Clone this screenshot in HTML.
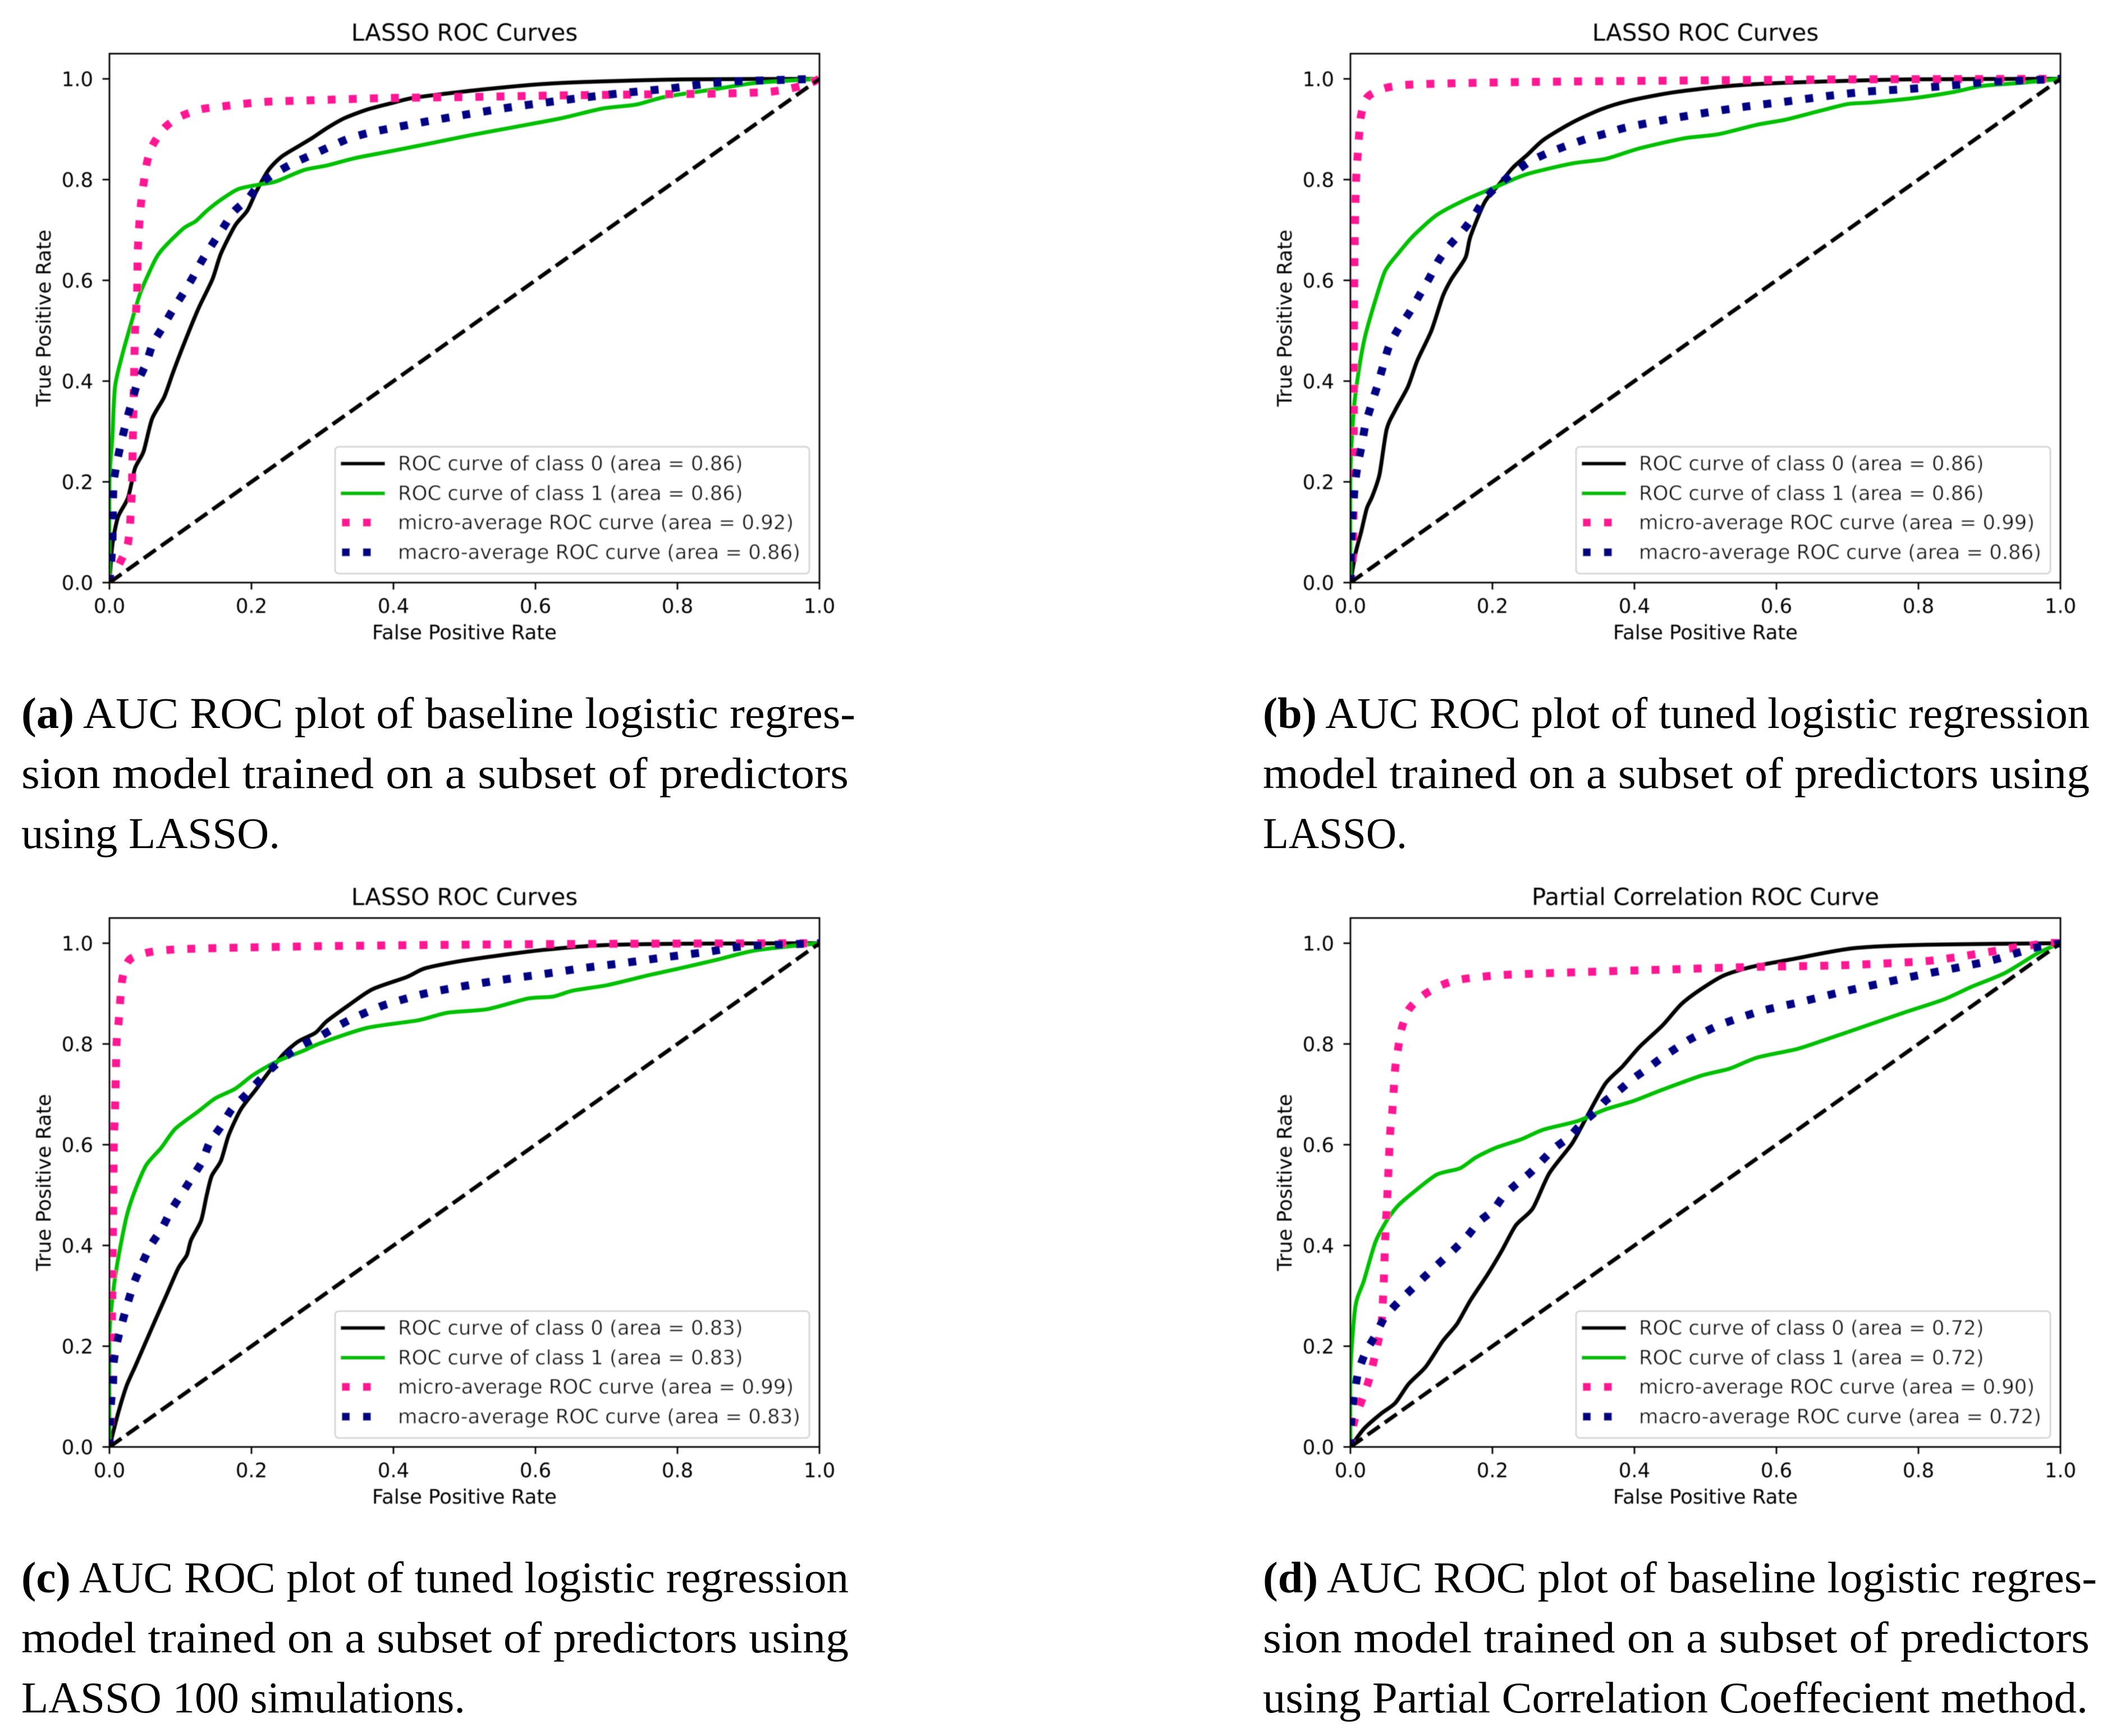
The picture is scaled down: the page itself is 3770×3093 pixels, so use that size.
<!DOCTYPE html>
<html lang="en">
<head>
<meta charset="utf-8">
<title>ROC curve comparison</title>
<style>
html,body{margin:0;padding:0;background:#fff;width:3770px;height:3093px;overflow:hidden}
svg{display:block}
.mpl{font-family:"DejaVu Sans",sans-serif;fill:#000}
.cap{font-family:"Liberation Serif",serif;font-size:78px;fill:#000}
.cap .lbl{font-weight:bold}
</style>
</head>
<body>
<svg id="figure" xmlns="http://www.w3.org/2000/svg" width="3770" height="3093" viewBox="0 0 3770 3093">
<defs><filter id="soft" x="-2%" y="-2%" width="104%" height="104%"><feGaussianBlur stdDeviation="0.9"/></filter></defs>
<g id="plots" filter="url(#soft)"></g>
<g>
<text class="cap" x="38" y="1297" textLength="1486" lengthAdjust="spacingAndGlyphs"><tspan class="lbl">(a)</tspan> AUC ROC plot of baseline logistic regres-</text>
<text class="cap" x="38" y="1404" textLength="1474" lengthAdjust="spacingAndGlyphs">sion model trained on a subset of predictors</text>
<text class="cap" x="38" y="1511" textLength="461" lengthAdjust="spacingAndGlyphs">using LASSO.</text>
</g>
<g>
<text class="cap" x="2250" y="1297" textLength="1473" lengthAdjust="spacingAndGlyphs"><tspan class="lbl">(b)</tspan> AUC ROC plot of tuned logistic regression</text>
<text class="cap" x="2250" y="1404" textLength="1473" lengthAdjust="spacingAndGlyphs">model trained on a subset of predictors using</text>
<text class="cap" x="2250" y="1511" textLength="257" lengthAdjust="spacingAndGlyphs">LASSO.</text>
</g>
<g>
<text class="cap" x="38" y="2837" textLength="1474" lengthAdjust="spacingAndGlyphs"><tspan class="lbl">(c)</tspan> AUC ROC plot of tuned logistic regression</text>
<text class="cap" x="38" y="2944" textLength="1474" lengthAdjust="spacingAndGlyphs">model trained on a subset of predictors using</text>
<text class="cap" x="38" y="3051" textLength="791" lengthAdjust="spacingAndGlyphs">LASSO 100 simulations.</text>
</g>
<g>
<text class="cap" x="2250" y="2837" textLength="1486" lengthAdjust="spacingAndGlyphs"><tspan class="lbl">(d)</tspan> AUC ROC plot of baseline logistic regres-</text>
<text class="cap" x="2250" y="2944" textLength="1473" lengthAdjust="spacingAndGlyphs">sion model trained on a subset of predictors</text>
<text class="cap" x="2250" y="3051" textLength="1470" lengthAdjust="spacingAndGlyphs">using Partial Correlation Coeffecient method.</text>
</g>
</svg>
<script>
// ---------- shared axis data ----------
const tickValues = [0, 0.2, 0.4, 0.6, 0.8, 1.0];
const tickLabels = ['0.0', '0.2', '0.4', '0.6', '0.8', '1.0'];
const diagonalFpr = [0, 1];
const diagonalTpr = [0, 1];
const seriesNames = ['ROC curve of class 0', 'ROC curve of class 1', 'micro-average ROC curve', 'macro-average ROC curve'];

// ---------- panel (a) ----------
const aTitle = 'LASSO ROC Curves';
const aAreas = ['0.86', '0.86', '0.92', '0.86'];
const aClass0Fpr = [0,.004,.012,.026,.036,.048,.06,.077,.089,.105,.125,.145,.157,.177,.194,.207,.224,.242,.266,.286,.306,.331,.363,.395,.427,.476,.54,.613,.694,.815,1];
const aClass0Tpr = [0,.074,.13,.168,.227,.26,.325,.368,.415,.474,.543,.602,.653,.709,.738,.777,.819,.845,.866,.883,.902,.922,.939,.951,.962,.971,.981,.99,.995,.999,1];
const aClass1Fpr = [0,0,.004,.008,.019,.031,.044,.066,.082,.105,.121,.137,.157,.181,.21,.234,.274,.306,.347,.395,.452,.508,.573,.637,.694,.742,.782,.855,.911,1];
const aClass1Tpr = [0,.2,.287,.39,.457,.517,.577,.645,.673,.704,.717,.738,.76,.781,.79,.796,.819,.828,.843,.856,.872,.888,.905,.922,.941,.949,.964,.98,.992,1];
const aMicroFpr = [0,.012,.026,.031,.033,.036,.039,.04,.044,.052,.06,.077,.098,.127,.157,.215,.274,.393,.51,.629,.746,.867,.927,.956,.984,1];
const aMicroTpr = [0,.032,.078,.164,.287,.496,.577,.662,.747,.828,.866,.902,.924,.939,.945,.954,.957,.962,.964,.967,.969,.971,.974,.98,.99,1];
const aMacroFpr = [0,.004,.005,.006,.011,.017,.024,.032,.04,.052,.061,.075,.089,.103,.117,.131,.145,.16,.175,.195,.211,.234,.258,.285,.31,.336,.363,.393,.449,.506,.562,.619,.675,.731,.79,.847,.903,1];
const aMacroTpr = [0,.074,.16,.2,.242,.281,.321,.361,.399,.436,.474,.507,.541,.572,.605,.641,.672,.704,.736,.762,.79,.813,.832,.849,.865,.881,.892,.901,.916,.93,.943,.954,.964,.973,.981,.991,.996,1];

// ---------- panel (b) ----------
const bTitle = 'LASSO ROC Curves';
const bAreas = ['0.86', '0.86', '0.99', '0.86'];
const bClass0Fpr = [0,.007,.015,.023,.031,.041,.051,.063,.081,.094,.114,.13,.142,.162,.169,.189,.209,.229,.249,.272,.312,.352,.391,.454,.534,.629,.787,1];
const bClass0Tpr = [0,.057,.1,.147,.172,.215,.304,.342,.389,.44,.5,.568,.602,.645,.687,.755,.79,.824,.849,.879,.913,.939,.956,.973,.986,.993,.999,1];
const bClass1Fpr = [0,0,.005,.013,.021,.035,.049,.067,.089,.122,.162,.209,.249,.312,.359,.407,.47,.518,.573,.613,.66,.7,.732,.795,.85,.89,.945,1];
const bClass1Tpr = [0,.219,.347,.432,.491,.56,.619,.653,.689,.73,.76,.788,.811,.832,.841,.862,.882,.89,.909,.919,.936,.95,.953,.962,.974,.986,.992,1];
const bMicroFpr = [0,.004,.005,.006,.008,.01,.012,.015,.024,.047,.078,.138,.257,.494,.708,1];
const bMicroTpr = [0,.083,.509,.679,.802,.845,.885,.928,.964,.981,.988,.991,.994,.997,.999,1];
const bMacroFpr = [0,.002,.004,.006,.01,.016,.021,.029,.038,.046,.054,.067,.083,.097,.111,.124,.14,.158,.175,.189,.209,.23,.254,.28,.306,.333,.361,.387,.444,.502,.557,.614,.672,.729,.787,.846,.906,1];
const bMacroTpr = [0,.108,.148,.191,.232,.273,.313,.351,.391,.43,.468,.503,.536,.57,.604,.639,.67,.698,.73,.762,.79,.813,.837,.854,.868,.881,.892,.903,.919,.933,.945,.955,.966,.975,.98,.987,.994,1];

// ---------- panel (c) ----------
const cTitle = 'LASSO ROC Curves';
const cAreas = ['0.83', '0.83', '0.99', '0.83'];
const cClass0Fpr = [0,.012,.024,.036,.048,.065,.081,.097,.109,.115,.129,.137,.144,.157,.168,.185,.206,.226,.246,.266,.29,.306,.339,.371,.419,.444,.492,.556,.613,.694,.815,1];
const cClass0Tpr = [0,.066,.121,.159,.198,.253,.304,.355,.381,.411,.449,.5,.538,.568,.619,.67,.709,.747,.781,.805,.822,.845,.879,.909,.933,.95,.964,.977,.987,.996,.999,1];
const cClass1Fpr = [0,0,.005,.012,.024,.036,.052,.073,.093,.125,.149,.177,.202,.234,.274,.298,.363,.435,.476,.532,.589,.625,.653,.702,.758,.806,.855,.911,1];
const cClass1Tpr = [0,.219,.304,.372,.457,.509,.56,.594,.632,.666,.692,.711,.738,.764,.787,.802,.832,.847,.862,.869,.89,.894,.906,.917,.936,.951,.967,.986,1];
const cMicroFpr = [0,.002,.005,.006,.008,.01,.013,.018,.028,.052,.085,.141,.29,.492,.734,1];
const cMicroTpr = [0,.083,.432,.594,.679,.802,.845,.928,.967,.981,.987,.99,.994,.997,.999,1];
const cMacroFpr = [0,.002,.005,.006,.011,.018,.026,.035,.046,.059,.074,.087,.102,.116,.131,.141,.157,.172,.19,.21,.228,.248,.272,.294,.317,.34,.367,.391,.444,.5,.556,.613,.669,.726,.782,.843,.895,1];
const cMacroTpr = [0,.083,.125,.168,.209,.247,.287,.327,.364,.402,.434,.47,.503,.534,.568,.604,.636,.67,.696,.726,.751,.775,.798,.813,.832,.849,.866,.879,.9,.915,.928,.939,.951,.961,.972,.983,.994,1];

// ---------- panel (d) ----------
const dTitle = 'Partial Correlation ROC Curve';
const dAreas = ['0.72', '0.72', '0.90', '0.72'];
const dClass0Fpr = [0,.019,.043,.063,.082,.106,.13,.15,.169,.193,.213,.233,.257,.28,.312,.332,.359,.383,.407,.439,.466,.494,.526,.565,.621,.708,.811,1];
const dClass0Tpr = [0,.036,.066,.087,.125,.159,.21,.244,.291,.342,.389,.44,.474,.543,.602,.653,.721,.755,.794,.836,.879,.909,.936,.953,.968,.99,.997,1];
const dClass1Fpr = [0,0,.007,.019,.035,.051,.067,.09,.122,.154,.177,.205,.241,.272,.32,.359,.399,.439,.494,.534,.573,.629,.668,.732,.779,.835,.874,.922,.969,1];
const dClass1Tpr = [0,.151,.279,.33,.406,.449,.479,.507,.541,.553,.575,.594,.611,.63,.647,.67,.687,.709,.737,.751,.773,.79,.808,.839,.862,.888,.913,.941,.981,1];
const dMicroFpr = [0,.005,.015,.025,.032,.039,.044,.047,.049,.052,.056,.059,.063,.067,.072,.082,.102,.127,.155,.215,.332,.451,.569,.688,.807,.866,.922,.981,1];
const dMicroTpr = [0,.049,.089,.128,.166,.209,.249,.331,.415,.5,.624,.666,.751,.79,.83,.868,.896,.916,.928,.937,.943,.948,.953,.956,.964,.975,.988,1,1];
const dMacroFpr = [0,.002,.006,.011,.021,.035,.048,.067,.086,.106,.126,.146,.165,.181,.201,.215,.233,.253,.271,.288,.308,.325,.344,.359,.378,.397,.417,.437,.457,.478,.502,.526,.577,.633,.688,.743,.799,.853,.906,.961,1];
const dMacroTpr = [0,.066,.108,.148,.187,.221,.257,.287,.313,.34,.366,.392,.419,.447,.47,.497,.521,.544,.57,.594,.615,.641,.664,.687,.707,.73,.75,.771,.79,.809,.826,.841,.865,.883,.902,.919,.936,.951,.967,.99,1];

// ---------- layout ----------
const NS = 'http://www.w3.org/2000/svg';
const root = document.getElementById('plots');
let clipCounter = 0;

function mk(tag, parent, attrs) {
  const el = document.createElementNS(NS, tag);
  for (const k in attrs) el.setAttribute(k, attrs[k]);
  parent.appendChild(el);
  return el;
}

// Renders the read points as a gently rounded path (no extra data values).
function smoothPath(xs, ys) {
  const p = xs.map((x, i) => [x, ys[i]]);
  const k = 8;
  let d = 'M' + p[0][0].toFixed(1) + ' ' + p[0][1].toFixed(1);
  for (let i = 0; i < p.length - 1; i++) {
    const a = p[Math.max(i - 1, 0)], b = p[i], c = p[i + 1], e = p[Math.min(i + 2, p.length - 1)];
    const c1x = b[0] + (c[0] - a[0]) / k, c1y = b[1] + (c[1] - a[1]) / k;
    const c2x = c[0] - (e[0] - b[0]) / k, c2y = c[1] - (e[1] - b[1]) / k;
    d += 'C' + c1x.toFixed(1) + ' ' + c1y.toFixed(1) + ' ' + c2x.toFixed(1) + ' ' + c2y.toFixed(1) + ' ' + c[0].toFixed(1) + ' ' + c[1].toFixed(1);
  }
  return d;
}

function drawPanel(panelName, left, right, rowOffset, title, areas, series) {
  const yOne = 140.5 + rowOffset;
  const yZero = 1038 + rowOffset;
  const top = yOne - 0.05 * (yZero - yOne);
  const xScale = v => left + v * (right - left);
  const yScale = v => yZero - v * (yZero - yOne);
  const frameW = 2.83;
  const styles = [
    {color: '#000000', width: 7, dash: null},
    {color: '#00bf00', width: 7, dash: null},
    {color: '#ff1493', width: 14.2, dash: '14.2 23.4'},
    {color: '#000080', width: 14.2, dash: '14.2 23.4'}
  ];
  const seriesKeys = ['class-0', 'class-1', 'micro-average', 'macro-average'];

  const g = mk('g', root, {});
  
  

  const clipId = 'clip' + (clipCounter++);
  const clip = mk('clipPath', g, {id: clipId});
  mk('rect', clip, {x: left, y: top, width: right - left, height: yZero - top});

  const curves = mk('g', g, {'clip-path': 'url(#' + clipId + ')'});
  
  

  series.forEach((s, i) => {
    const d = smoothPath(s[0].map(xScale), s[1].map(yScale));
    const line = mk('path', curves, {d: d, fill: 'none', stroke: styles[i].color, 'stroke-width': styles[i].width, 'stroke-linejoin': 'round'});
    if (styles[i].dash) line.setAttribute('stroke-dasharray', styles[i].dash);
    
    
  });

  const diag = mk('line', curves, {x1: xScale(diagonalFpr[0]), y1: yScale(diagonalTpr[0]), x2: xScale(diagonalFpr[1]), y2: yScale(diagonalTpr[1]), stroke: '#000', 'stroke-width': 7, 'stroke-dasharray': '26.2 11.3'});
  
  

  const frame = mk('rect', g, {x: left, y: top, width: right - left, height: yZero - top, fill: 'none', stroke: '#000', 'stroke-width': frameW});
  
  

  tickValues.forEach((v, i) => {
    const tx = mk('line', g, {x1: xScale(v), x2: xScale(v), y1: yZero, y2: yZero + 12.4, stroke: '#000', 'stroke-width': frameW});
    
    
    const lx = mk('text', g, {x: xScale(v), y: yZero + 54, 'text-anchor': 'middle', 'font-size': 35.4, class: 'mpl'});
    lx.textContent = tickLabels[i];
    
    
    const ty = mk('line', g, {x1: left - 12.4, x2: left, y1: yScale(v), y2: yScale(v), stroke: '#000', 'stroke-width': frameW});
    
    
    const ly = mk('text', g, {x: left - 29, y: yScale(v) + 13, 'text-anchor': 'end', 'font-size': 35.4, class: 'mpl'});
    ly.textContent = tickLabels[i];
    
    
  });

  const mid = (left + right) / 2;
  const titleEl = mk('text', g, {x: mid, y: 72.5 + rowOffset, 'text-anchor': 'middle', 'font-size': 42, class: 'mpl'});
  titleEl.textContent = title;
  
  

  const xl = mk('text', g, {x: mid, y: 1139 + rowOffset, 'text-anchor': 'middle', 'font-size': 35.4, class: 'mpl'});
  xl.textContent = 'False Positive Rate';
  
  

  const ylX = left - 105;
  const ylY = (yZero + top) / 2;
  const yl = mk('text', g, {x: ylX, y: ylY, 'text-anchor': 'middle', 'font-size': 35.4, class: 'mpl', transform: 'rotate(-90 ' + ylX + ' ' + ylY + ')'});
  yl.textContent = 'True Positive Rate';
  
  

  // legend
  const legRight = right - 18;
  const legLeft = legRight - 845;
  const legend = mk('g', g, {});
  
  
  mk('rect', legend, {x: legLeft, y: 796 + rowOffset, width: 845, height: 226, rx: 7, ry: 7, fill: '#fff', 'fill-opacity': 0.8, stroke: '#d4d4d4', 'stroke-width': 2.83});
  const rows = [826, 879, 931, 984];
  rows.forEach((ry, i) => {
    const entry = mk('g', legend, {});
    
    
    const dotted = !!styles[i].dash;
    const h = mk('line', entry, {x1: legLeft + (dotted ? 12 : 10), x2: legLeft + (dotted ? 66 : 89), y1: ry + rowOffset, y2: ry + rowOffset, stroke: styles[i].color, 'stroke-width': dotted ? 14.2 : 7});
    if (dotted) h.setAttribute('stroke-dasharray', styles[i].dash);
    const t = mk('text', entry, {x: legLeft + 112, y: ry + rowOffset + 12, 'font-size': 35.4, class: 'mpl'});
    t.textContent = seriesNames[i] + ' (area = ' + areas[i] + ')';
  });
}

drawPanel('roc-panel-a', 195, 1460, 0, aTitle, aAreas, [[aClass0Fpr, aClass0Tpr], [aClass1Fpr, aClass1Tpr], [aMicroFpr, aMicroTpr], [aMacroFpr, aMacroTpr]]);
drawPanel('roc-panel-b', 2406, 3671, 0, bTitle, bAreas, [[bClass0Fpr, bClass0Tpr], [bClass1Fpr, bClass1Tpr], [bMicroFpr, bMicroTpr], [bMacroFpr, bMacroTpr]]);
drawPanel('roc-panel-c', 195, 1460, 1540, cTitle, cAreas, [[cClass0Fpr, cClass0Tpr], [cClass1Fpr, cClass1Tpr], [cMicroFpr, cMicroTpr], [cMacroFpr, cMacroTpr]]);
drawPanel('roc-panel-d', 2406, 3671, 1540, dTitle, dAreas, [[dClass0Fpr, dClass0Tpr], [dClass1Fpr, dClass1Tpr], [dMicroFpr, dMicroTpr], [dMacroFpr, dMacroTpr]]);
</script>
</body>
</html>
